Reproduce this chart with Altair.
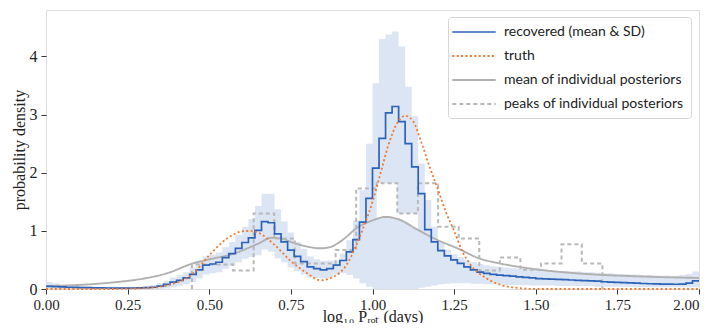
import altair as alt
import pandas as pd
import numpy as np

# ---------------- data ----------------
LABELS = ["recovered (mean & SD)", "truth",
          "mean of individual posteriors", "peaks of individual posteriors"]

# recovered histogram: 100 bins of width 0.02 on [0, 2]
rec_edges = np.round(np.linspace(0.0, 2.0, 101), 4)
rec_mean = [
    0.045, 0.04, 0.035, 0.03, 0.028, 0.025, 0.022, 0.02, 0.018, 0.017,
    0.016, 0.016, 0.016, 0.017, 0.019, 0.022, 0.03, 0.05, 0.08, 0.12,
    0.15, 0.19, 0.25, 0.33, 0.41, 0.43, 0.46, 0.54, 0.61, 0.70,
    0.80, 0.88, 1.01, 1.16, 1.14, 0.95, 0.81, 0.67, 0.56, 0.47,
    0.38, 0.35, 0.33, 0.35, 0.41, 0.49, 0.64, 0.85, 1.15, 1.56,
    2.08, 2.59, 3.03, 3.14, 2.88, 2.5, 2.1, 1.64, 1.02, 0.81,
    0.66, 0.57, 0.50, 0.44, 0.38, 0.33, 0.29, 0.27, 0.25, 0.24,
    0.23, 0.22, 0.21, 0.20, 0.19, 0.18, 0.175, 0.17, 0.165, 0.16,
    0.155, 0.15, 0.145, 0.14, 0.135, 0.125, 0.12, 0.115, 0.11, 0.105,
    0.10, 0.095, 0.09, 0.088, 0.085, 0.083, 0.082, 0.085, 0.10, 0.14,
]
# SD band: lower and upper edge per bin
rec_lo = [
    0.0, 0.0, 0.0, 0.0, 0.0, 0.0, 0.0, 0.0, 0.0, 0.0,
    0.0, 0.0, 0.0, 0.0, 0.0, 0.0, 0.0, 0.0, 0.01, 0.03,
    0.05, 0.08, 0.12, 0.18, 0.25, 0.27, 0.29, 0.35, 0.40, 0.46,
    0.52, 0.55, 0.58, 0.68, 0.64, 0.53, 0.46, 0.37, 0.31, 0.25,
    0.20, 0.19, 0.18, 0.19, 0.25, 0.27, 0.24, 0.18, 0.10, 0.04,
    0.0, 0.0, 0.0, 0.0, 0.0, 0.0, 0.0, 0.02, 0.04, 0.06,
    0.08, 0.09, 0.10, 0.10, 0.10, 0.09, 0.09, 0.08, 0.08, 0.08,
    0.07, 0.07, 0.07, 0.07, 0.06, 0.06, 0.06, 0.06, 0.05, 0.05,
    0.05, 0.05, 0.05, 0.05, 0.04, 0.04, 0.04, 0.04, 0.04, 0.04,
    0.03, 0.03, 0.03, 0.03, 0.03, 0.03, 0.03, 0.03, 0.03, 0.03,
]
rec_hi = [
    0.12, 0.10, 0.07, 0.06, 0.055, 0.05, 0.045, 0.04, 0.04, 0.04,
    0.04, 0.04, 0.04, 0.04, 0.04, 0.05, 0.07, 0.10, 0.14, 0.20,
    0.24, 0.29, 0.37, 0.47, 0.56, 0.59, 0.63, 0.72, 0.81, 0.93,
    1.07, 1.20, 1.43, 1.64, 1.64, 1.37, 1.16, 0.97, 0.81, 0.69,
    0.56, 0.51, 0.48, 0.49, 0.49, 0.61, 0.84, 1.18, 1.70, 2.50,
    3.54, 4.30, 4.38, 4.43, 4.17, 3.48, 2.97, 2.16, 1.53, 1.07,
    0.80, 0.68, 0.60, 0.55, 0.50, 0.46, 0.43, 0.41, 0.39, 0.38,
    0.37, 0.36, 0.35, 0.34, 0.33, 0.33, 0.32, 0.32, 0.31, 0.31,
    0.30, 0.30, 0.29, 0.29, 0.28, 0.27, 0.27, 0.26, 0.26, 0.25,
    0.25, 0.24, 0.24, 0.23, 0.23, 0.23, 0.23, 0.24, 0.26, 0.30,
]

# unshaded gap inside the band under the main peak
gap_part = ["a", "a", "a", "b", "b", "b"]
gap_x = [1.013, 1.045, 1.076, 1.076, 1.105, 1.139]
gap_lo = [1.20, 1.235, 1.20, 1.20, 1.13, 1.03]
gap_hi = [1.82, 1.82, 1.82, 1.30, 1.30, 1.30]

# truth (smooth curve)
truth_x = [0.00, 0.20, 0.25, 0.30, 0.35, 0.40, 0.45, 0.50, 0.55, 0.60, 0.625,
           0.65, 0.70, 0.75, 0.80, 0.84, 0.88, 0.92, 0.95, 0.975, 1.00, 1.025,
           1.05, 1.075, 1.10, 1.125, 1.15, 1.175, 1.20, 1.225, 1.25, 1.275,
           1.30, 1.35, 1.40, 1.45, 1.50, 1.75, 2.00]
truth_y = [0.0, 0.0, 0.005, 0.015, 0.04, 0.11, 0.26, 0.58, 0.85, 0.99, 1.0,
           0.97, 0.76, 0.48, 0.27, 0.15, 0.21, 0.41, 0.75, 1.1, 1.5, 2.0,
           2.5, 2.85, 2.98, 2.88, 2.52, 2.1, 1.72, 1.32, 1.0, 0.65,
           0.42, 0.18, 0.06, 0.015, 0.0, 0.0, 0.0]

# mean of individual posteriors (smooth curve)
mean_x = [0.00, 0.10, 0.20, 0.25, 0.30, 0.37, 0.45, 0.50, 0.57, 0.65, 0.69,
          0.72, 0.75, 0.80, 0.84, 0.87, 0.90, 0.96, 1.00, 1.04, 1.08, 1.135,
          1.20, 1.26, 1.33, 1.39, 1.50, 1.65, 1.80, 2.00]
mean_y = [0.05, 0.07, 0.11, 0.14, 0.18, 0.27, 0.44, 0.51, 0.60, 0.78, 0.88,
          0.87, 0.81, 0.73, 0.70, 0.72, 0.81, 1.08, 1.18, 1.24, 1.20, 1.03,
          0.84, 0.70, 0.52, 0.44, 0.34, 0.26, 0.22, 0.19]

# peaks of individual posteriors: 20-bin step histogram
peak_edges = [0.447, 0.510, 0.573, 0.636, 0.699, 0.762, 0.824, 0.887, 0.950,
              1.013, 1.076, 1.139, 1.201, 1.264, 1.327, 1.390, 1.453, 1.516,
              1.579, 1.641, 1.704]
peak_vals = [0.42, 0.42, 0.32, 1.30, 0.87, 0.44, 0.44, 0.67, 1.73, 1.82,
             1.30, 1.82, 1.07, 0.87, 0.32, 0.54, 0.33, 0.44, 0.77, 0.44]

X_TICKS = [0.0, 0.25, 0.5, 0.75, 1.0, 1.25, 1.5, 1.75, 2.0]
Y_TICKS = [0, 1, 2, 3, 4]

# ---------------- tables ----------------
rec_df = pd.DataFrame({
    "x": rec_edges,
    "y": rec_mean + [rec_mean[-1]],
    "lo": rec_lo + [rec_lo[-1]],
    "hi": rec_hi + [rec_hi[-1]],
    "series": LABELS[0],
})
gap_df = pd.DataFrame({"x": gap_x, "lo": gap_lo, "hi": gap_hi, "part": gap_part})
truth_df = pd.DataFrame({"x": truth_x, "y": truth_y, "series": LABELS[1]})
mean_df = pd.DataFrame({"x": mean_x, "y": mean_y, "series": LABELS[2]})

px = [peak_edges[0]] + peak_edges[:-1] + [peak_edges[-1], peak_edges[-1]]
py = [0.0] + peak_vals + [peak_vals[-1], 0.0]
peak_df = pd.DataFrame({"x": px, "y": py, "order": list(range(len(px))),
                        "series": LABELS[3]})

xscale = alt.Scale(domain=[0, 2], nice=False, zero=False)
yscale = alt.Scale(domain=[0, 4.8], nice=False)

SERIF = "Liberation Serif"
x_axis = alt.Axis(values=X_TICKS, format=".2f", title="log₁₀ Pᵣₒₜ (days)",
                  grid=False, domain=False, tickSize=5, tickColor="#333",
                  labelFont=SERIF, labelFontSize=15, labelColor="#222",
                  labelPadding=3, labelFlush=False,
                  labelAlign={"expr": "datum.value == 2 ? 'right' : 'center'"},
                  titleFont=SERIF, titleFontSize=16, titleFontWeight="normal",
                  titleColor="#222", titleY=32, titleX=326.5,
                  titleBaseline="alphabetic")
y_axis = alt.Axis(values=Y_TICKS, format="d", title="probability density",
                  grid=False, domain=False, tickSize=5, tickColor="#333",
                  labelFont=SERIF, labelFontSize=16, labelColor="#222",
                  labelPadding=4,
                  titleFont=SERIF, titleFontSize=16, titleFontWeight="normal",
                  titleColor="#222", titleX=-22, titleY=139.5, titleAngle=270,
                  titleAlign="center", titleBaseline="alphabetic")

color_scale = alt.Scale(domain=LABELS,
                        range=["#2c62b8", "#f4782c", "#b0b0b0", "#b8b8b8"])
dash_scale = alt.Scale(domain=LABELS,
                       range=[[1, 0], [2, 2.4], [1, 0], [4, 3]])
width_scale = alt.Scale(domain=LABELS, range=[1.7, 2.0, 3.0, 1.2])

legend = alt.Legend(title=None, orient="none", legendX=402, legendY=7,
                    fillColor="white", strokeColor="#d6d6d6", cornerRadius=3,
                    padding=7, symbolType="M-3.1,0H3.1", symbolSize=196,
                    symbolOffset=11, labelOffset=22,
                    labelFont="Lato", labelFontSize=14, labelColor="#222",
                    labelLimit=400, rowPadding=9,
                    symbolFillColor="transparent")

color_enc = alt.Color("series:N", scale=color_scale, legend=legend)
dash_enc = alt.StrokeDash("series:N", scale=dash_scale, legend=legend)
width_enc = alt.StrokeWidth("series:N", scale=width_scale, legend=legend)

band = alt.Chart(rec_df).mark_area(interpolate="step-after", color="#dbe5f3",
                                   opacity=1).encode(
    x=alt.X("x:Q", scale=xscale, axis=x_axis),
    y=alt.Y("lo:Q", scale=yscale, axis=y_axis),
    y2="hi:Q",
)

gap = alt.Chart(gap_df).mark_area(color="white", opacity=1).encode(
    x=alt.X("x:Q", scale=xscale), y=alt.Y("lo:Q", scale=yscale), y2="hi:Q",
    detail="part:N",
)

mean_line = alt.Chart(mean_df).mark_line(interpolate="monotone").encode(
    x=alt.X("x:Q", scale=xscale), y=alt.Y("y:Q", scale=yscale),
    color=color_enc, strokeDash=dash_enc, strokeWidth=width_enc,
)

peak_line = alt.Chart(peak_df).mark_line(interpolate="step-after").encode(
    x=alt.X("x:Q", scale=xscale), y=alt.Y("y:Q", scale=yscale),
    order="order:Q",
    color=color_enc, strokeDash=dash_enc, strokeWidth=width_enc,
)

rec_line = alt.Chart(rec_df).mark_line(interpolate="step-after").encode(
    x=alt.X("x:Q", scale=xscale), y=alt.Y("y:Q", scale=yscale),
    color=color_enc, strokeDash=dash_enc, strokeWidth=width_enc,
)

truth_line = alt.Chart(truth_df).mark_line(interpolate="monotone").encode(
    x=alt.X("x:Q", scale=xscale), y=alt.Y("y:Q", scale=yscale),
    color=color_enc, strokeDash=dash_enc, strokeWidth=width_enc,
)

chart = alt.layer(band, gap, mean_line, peak_line, rec_line, truth_line).properties(
    width=653, height=279,
    padding={"left": 38, "top": 2, "right": 5, "bottom": 34},
    autosize=alt.AutoSizeParams(type="none"),
).configure_view(stroke="#333", strokeWidth=1.2).configure(background="white")

chart.save("out.html", embed_options={"renderer": "svg", "actions": False})
